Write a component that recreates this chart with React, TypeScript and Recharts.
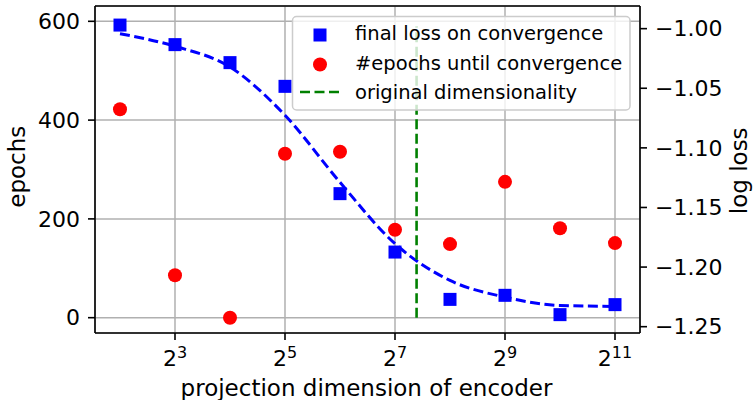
import {
  ComposedChart,
  Line,
  Scatter,
  XAxis,
  YAxis,
  CartesianGrid,
  ReferenceLine,
} from "recharts";

// projection dimension of encoder (powers of two)
const DIMS = [4, 8, 16, 32, 64, 128, 256, 512, 1024, 2048];
// final loss on convergence (log loss, right axis)
const FINAL_LOSS = [
  -0.997, -1.0134, -1.0285, -1.0484, -1.1384, -1.1874, -1.2271, -1.2237,
  -1.2399, -1.2315,
];
// #epochs until convergence (left axis)
const EPOCHS = [422, 86, 0, 332, 336, 178, 149, 275, 181, 151];
// fitted trend of the loss (dashed blue)
const FIT_LOSS = [
  -1.0042, -1.0148, -1.0322, -1.0727, -1.1289, -1.1804, -1.2112, -1.2252,
  -1.2322, -1.233,
];
const ORIGINAL_DIM = 168;
const ORIGINAL_SPAN = [0, 590];

const X_TICKS = [3, 5, 7, 9, 11];
const EPOCH_TICKS = [0, 200, 400, 600];
const LOSS_TICKS = [-1.25, -1.2, -1.15, -1.1, -1.05, -1.0];

const FONT = "'DejaVu Sans', sans-serif";

const data = DIMS.map((d, i) => ({
  x: Math.log2(d),
  loss: FINAL_LOSS[i],
  epochs: EPOCHS[i],
  fit: FIT_LOSS[i],
}));

const PowTick = (props: any) => {
  const { x, y, payload } = props;
  return (
    <text x={x} y={y + 23.5} textAnchor="middle" fill="#000" fontFamily={FONT}>
      <tspan fontSize={22}>2</tspan>
      <tspan fontSize={16} dy={-8}>
        {payload.value}
      </tspan>
    </text>
  );
};

const Square = (props: any) => {
  const { cx, cy } = props;
  return <rect x={cx - 6.5} y={cy - 6.5} width={13} height={13} fill="#0000ff" />;
};

const Dot = (props: any) => {
  const { cx, cy } = props;
  return <circle cx={cx} cy={cy} r={7} fill="#ff0000" />;
};

const fmtLoss = (v: number) => (v < 0 ? "\u2212" : "") + Math.abs(v).toFixed(2);

export default function App() {
  const origX = Math.log2(ORIGINAL_DIM);
  return (
    <div style={{ position: "absolute", left: 0, top: 0, width: 754, height: 400, background: "#fff" }}>
      <ComposedChart
        width={754}
        height={400}
        data={data}
        margin={{ top: 6, right: 0, bottom: 0, left: 0 }}
        style={{ fontFamily: FONT }}
      >
        <CartesianGrid yAxisId="left" stroke="#b0b0b0" strokeWidth={1.5} />
        <XAxis
          dataKey="x"
          type="number"
          domain={[1.5455, 11.4545]}
          ticks={X_TICKS}
          allowDataOverflow
          height={67}
          tick={<PowTick />}
          tickSize={7}
          tickMargin={2}
          stroke="#000"
          strokeWidth={1.6}
        />
        <YAxis
          yAxisId="left"
          orientation="left"
          width={95}
          domain={[-31, 631]}
          ticks={EPOCH_TICKS}
          allowDataOverflow
          tickSize={7}
          tickMargin={8}
          stroke="#000"
          strokeWidth={1.6}
          tick={{ fill: "#000", fontSize: 22, fontFamily: FONT }}
        />
        <YAxis
          yAxisId="right"
          orientation="right"
          width={114}
          domain={[-1.2553, -0.981]}
          ticks={LOSS_TICKS}
          allowDataOverflow
          tickFormatter={fmtLoss}
          tickSize={7}
          tickMargin={8}
          stroke="#000"
          strokeWidth={1.6}
          tick={{ fill: "#000", fontSize: 22, fontFamily: FONT }}
        />
        <ReferenceLine yAxisId="left" y={631} stroke="#000" strokeWidth={1.6} ifOverflow="visible" />
        <Line
          yAxisId="right"
          dataKey="fit"
          type="monotone"
          stroke="#0000ff"
          strokeWidth={3}
          strokeDasharray="10 4.5"
          dot={false}
          activeDot={false}
          isAnimationActive={false}
        />
        <Scatter yAxisId="right" dataKey="loss" shape={<Square />} isAnimationActive={false} />
        <Scatter yAxisId="left" dataKey="epochs" shape={<Dot />} isAnimationActive={false} />
        <ReferenceLine
          yAxisId="left"
          segment={[
            { x: origX, y: ORIGINAL_SPAN[0] },
            { x: origX, y: ORIGINAL_SPAN[1] },
          ]}
          stroke="#008000"
          strokeWidth={2.6}
          strokeDasharray="10 4.5"
        />
      </ComposedChart>
      <svg
        width={754}
        height={400}
        style={{ position: "absolute", left: 0, top: 0, pointerEvents: "none" }}
        fontFamily={FONT}
      >
        <text x={25} y={166.7} transform="rotate(-90 25 166.7)" textAnchor="middle" fontSize={23} fill="#000">
          epochs
        </text>
        <text x={747} y={170.8} transform="rotate(-90 747 170.8)" textAnchor="middle" fontSize={23} fill="#000">
          log loss
        </text>
        <text x={366.5} y={396} textAnchor="middle" fontSize={23} fill="#000">
          projection dimension of encoder
        </text>
        <rect
          x={292.5}
          y={16.5}
          width={337.5}
          height={93.5}
          rx={4}
          fill="#fff"
          fillOpacity={0.8}
          stroke="#cccccc"
          strokeWidth={1.5}
        />
        <rect x={313.5} y={28.5} width={13} height={13} fill="#0000ff" />
        <circle cx={320} cy={64.5} r={7} fill="#ff0000" />
        <line x1={300} y1={92} x2={340} y2={92} stroke="#008000" strokeWidth={2.6} strokeDasharray="10 4.5" />
        <text x={355} y={40} fontSize={19.5} fill="#000">
          final loss on convergence
        </text>
        <text x={355} y={69.5} fontSize={19.5} fill="#000">
          #epochs until convergence
        </text>
        <text x={355} y={98.5} fontSize={19.5} fill="#000">
          original dimensionality
        </text>
      </svg>
    </div>
  );
}
